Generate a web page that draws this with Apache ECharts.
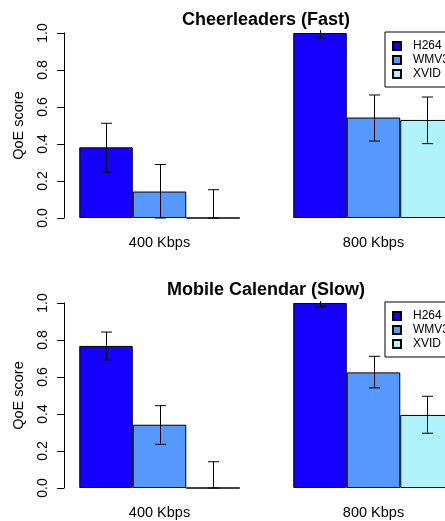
<!DOCTYPE html>
<html>
<head>
<meta charset="utf-8">
<script src="https://cdn.jsdelivr.net/npm/echarts@6/dist/echarts.min.js"></script>
<style>
  html, body { margin: 0; padding: 0; background: #fff; }
  #chart { width: 445px; height: 521px; }
</style>
</head>
<body>
<div id="chart"></div>
<script>
var categories = ['400 Kbps', '800 Kbps']
var codecs = ['H264', 'WMV3', 'XVID']
var colors = ['#1500ff', '#5599ff', '#b0f2fa']
var yTicks = [0, 0.2, 0.4, 0.6, 0.8, 1.0]

// panel 1: Cheerleaders (Fast)
var fastTitle = 'Cheerleaders (Fast)'
var fastH264 = [0.382, 1.0]
var fastWMV3 = [0.143, 0.543]
var fastXVID = [0.0, 0.530]
var fastH264Err = [[0.247, 0.512], [0.973, 1.015]]
var fastWMV3Err = [[0.0, 0.289], [0.416, 0.665]]
var fastXVIDErr = [[0.0, 0.153], [0.402, 0.654]]

// panel 2: Mobile Calendar (Slow)
var slowTitle = 'Mobile Calendar (Slow)'
var slowH264 = [0.768, 1.0]
var slowWMV3 = [0.342, 0.625]
var slowXVID = [0.0, 0.395]
var slowH264Err = [[0.692, 0.843], [0.980, 1.010]]
var slowWMV3Err = [[0.236, 0.445], [0.541, 0.712]]
var slowXVIDErr = [[0.0, 0.142], [0.296, 0.496]]

var panels = [
  { title: fastTitle, values: [fastH264, fastWMV3, fastXVID], errs: [fastH264Err, fastWMV3Err, fastXVIDErr], top: 33 },
  { title: slowTitle, values: [slowH264, slowWMV3, slowXVID], errs: [slowH264Err, slowWMV3Err, slowXVIDErr], top: 303 }
]

var font = 'Liberation Sans, Arial, Helvetica, sans-serif'
var chart = echarts.init(document.getElementById('chart'))

var option = {
  animation: false,
  backgroundColor: '#fff',
  textStyle: { fontFamily: font },
  title: [],
  legend: [],
  grid: [],
  xAxis: [],
  yAxis: [],
  series: []
}

panels.forEach(function (p, gi) {
  option.title.push({
    text: p.title,
    left: 261,
    top: p.top - 27,
    textAlign: 'center',
    textStyle: { fontFamily: font, fontSize: 18, fontWeight: 'bold', color: '#000' }
  })
  // plot region runs past the right edge of the picture, as in the original
  option.grid.push({ left: 52.5, width: 428, top: p.top, height: 185, outerBoundsMode: 'none', containLabel: false })
  option.xAxis.push({
    type: 'category',
    gridIndex: gi,
    data: categories,
    axisLine: { show: false },
    axisTick: { show: false },
    axisLabel: { color: '#000', fontSize: 14.5, margin: 17, fontFamily: font }
  })
  option.yAxis.push({
    type: 'value',
    gridIndex: gi,
    min: 0,
    max: 1,
    interval: 0.2,
    offset: -11.5,
    name: 'QoE score',
    nameLocation: 'middle',
    nameGap: 38,
    nameTextStyle: { color: '#000', fontSize: 14.5, fontFamily: font },
    axisLine: { show: true, lineStyle: { color: '#000', width: 1 } },
    axisTick: { show: true, length: 7, lineStyle: { color: '#000' } },
    axisLabel: {
      color: '#000', fontSize: 14, rotate: 90, margin: 14, fontFamily: font,
      formatter: function (v) { return v.toFixed(1) }
    },
    splitLine: { show: false }
  })
  option.legend.push({
    orient: 'vertical',
    left: 385,
    top: p.top - 1,
    data: codecs,
    itemWidth: 8,
    itemHeight: 8,
    itemGap: 2,
    icon: 'rect',
    borderColor: '#000',
    borderWidth: 1,
    borderRadius: 0,
    padding: [8, 40, 7, 7],
    selectedMode: false,
    textStyle: { color: '#000', fontSize: 12, fontFamily: font, padding: [0, 0, 0, 7], lineHeight: 12 }
  })
  codecs.forEach(function (c, k) {
    option.series.push({
      name: c,
      type: 'bar',
      xAxisIndex: gi,
      yAxisIndex: gi,
      data: p.values[k],
      barGap: '0%',
      barCategoryGap: '25%',
      itemStyle: { color: colors[k], borderColor: '#000', borderWidth: 1 }
    })
  })
  var errData = []
  p.errs.forEach(function (list, k) {
    list.forEach(function (e, ci) {
      errData.push([ci, k, e[0], e[1]])
    })
  })
  option.series.push({
    type: 'custom',
    xAxisIndex: gi,
    yAxisIndex: gi,
    data: errData,
    z: 10,
    renderItem: function (params, api) {
      var ci = api.value(0)
      var k = api.value(1)
      var lo = api.value(2)
      var hi = api.value(3)
      var bandW = api.size([1, 0])[0]
      var barW = bandW * 0.75 / 3
      var x = Math.round(api.coord([ci, 0])[0] + (k - 1) * barW) + 0.5
      var yLo = api.coord([ci, lo])[1]
      var yHi = api.coord([ci, hi])[1]
      var cap = 5.5
      var style = { stroke: '#000', lineWidth: 1 }
      var kids = [
        { type: 'line', shape: { x1: x, y1: yLo, x2: x, y2: yHi }, style: style },
        { type: 'line', shape: { x1: x - cap, y1: yLo, x2: x + cap, y2: yLo }, style: style }
      ]
      if (hi <= 1) {
        kids.push({ type: 'line', shape: { x1: x - cap, y1: yHi, x2: x + cap, y2: yHi }, style: style })
      }
      return { type: 'group', children: kids }
    }
  })
})

chart.setOption(option)
</script>
</body>
</html>
